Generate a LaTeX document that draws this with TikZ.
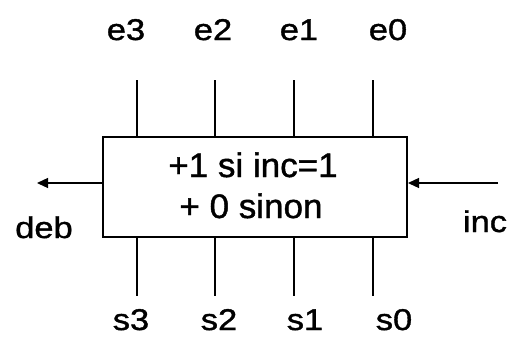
\documentclass[tikz,border=0pt]{standalone}
\usepackage{fontspec}
\setmainfont{Liberation Sans}
\newfontfamily\labfont[FakeStretch=1.15,FakeBold=1.2]{Liberation Sans}
\newfontfamily\boxfont[FakeStretch=1.03,FakeBold=1.2]{Liberation Sans}
\usetikzlibrary{arrows.meta}
\begin{document}
\begin{tikzpicture}[x=1pt,y=-1pt,
  lab/.style={font=\labfont\fontsize{30}{32}\selectfont, anchor=base, inner sep=0pt},
  inner/.style={font=\boxfont\fontsize{34}{40}\selectfont, anchor=base, inner sep=0pt},
  wire/.style={line width=1.8pt},
  sig/.style={line width=1.3pt, -{Triangle[length=11pt,width=10pt]}}]
\useasboundingbox (0,0) rectangle (512,338);
\node[draw, line width=2pt, minimum width=304pt, minimum height=100pt, inner sep=0pt] (box) at (255,187) {};
\node[inner] (t1) at (253,177) {+1 si inc=1};
\node[inner] (t2) at (251,218) {+ 0 sinon};
\foreach \i/\x/\lx/\bx in {3/137/126/131, 2/215/213/219, 1/294/299/305, 0/373/388/394} {
  \coordinate (et\i) at (\x,80);
  \coordinate (eb\i) at (\x,137);
  \coordinate (st\i) at (\x,237);
  \coordinate (sb\i) at (\x,296);
  \draw[wire] (et\i) -- (eb\i);
  \draw[wire] (st\i) -- (sb\i);
  \node[lab] (e\i) at (\lx,40) {e\i};
  \node[lab] (s\i) at (\bx,330) {s\i};
}
\coordinate (debend) at (37,183);
\coordinate (incstart) at (498,183);
\draw[sig] (box.west |- debend) -- (debend);
\draw[sig] (incstart) -- (box.east |- incstart);
\node[lab] (deb) at (44,238) {deb};
\node[lab] (inc) at (485,232) {inc};
\end{tikzpicture}
\end{document}
